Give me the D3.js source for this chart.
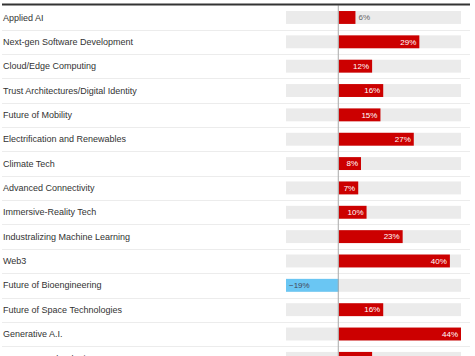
<!DOCTYPE html>
<html>
<head>
<meta charset="utf-8">
<script src="https://cdn.jsdelivr.net/npm/d3@7"></script>
<style>
  html, body { margin: 0; padding: 0; background: #fff; }
  svg { display: block; font-family: "Liberation Sans", Arial, sans-serif; }
</style>
</head>
<body>
<svg id="chart" width="475" height="356"></svg>
<script>
const categories = [
  "Applied AI",
  "Next-gen Software Development",
  "Cloud/Edge Computing",
  "Trust Architectures/Digital Identity",
  "Future of Mobility",
  "Electrification and Renewables",
  "Climate Tech",
  "Advanced Connectivity",
  "Immersive-Reality Tech",
  "Industralizing Machine Learning",
  "Web3",
  "Future of Bioengineering",
  "Future of Space Technologies",
  "Generative A.I.",
  "Quantum Technologies"
];
const values = [6, 29, 12, 16, 15, 27, 8, 7, 10, 23, 40, -19, 16, 44, 12];
const domainMin = -19;
const domainMax = 44;

const svg = d3.select("#chart");
const W = 475;
const step = 24.35;
const y0 = 5.3;

const x = d3.scaleLinear().domain([domainMin, domainMax]).range([286, 461]);
const y = d3.scaleBand()
  .domain(categories)
  .range([y0, y0 + step * categories.length])
  .paddingInner(0.47)
  .paddingOuter(0.235);

const rows = categories.map((c, i) => ({ cat: c, val: values[i] }));

// row separators
svg.append("g").selectAll("line")
  .data(categories.slice(1))
  .join("line")
  .attr("x1", 2).attr("x2", 470)
  .attr("y1", d => Math.round(y(d) - y.step() * 0.235) + 0.5)
  .attr("y2", d => Math.round(y(d) - y.step() * 0.235) + 0.5)
  .attr("stroke", "#ececec")
  .attr("stroke-width", 1);

// background bands
svg.append("g").selectAll("rect")
  .data(rows)
  .join("rect")
  .attr("x", x(domainMin))
  .attr("width", x(domainMax) - x(domainMin))
  .attr("y", d => y(d.cat))
  .attr("height", y.bandwidth())
  .attr("fill", "#ebebeb");

// bars
svg.append("g").selectAll("rect")
  .data(rows)
  .join("rect")
  .attr("x", d => x(Math.min(0, d.val)))
  .attr("width", d => Math.abs(x(d.val) - x(0)))
  .attr("y", d => y(d.cat))
  .attr("height", y.bandwidth())
  .attr("fill", d => d.val < 0 ? "#6ac6f3" : "#cc0000");

// zero line
svg.append("line")
  .attr("x1", x(0) - 0.5).attr("x2", x(0) - 0.5)
  .attr("y1", y0).attr("y2", 356)
  .attr("stroke", "#a8a8a8")
  .attr("stroke-width", 1);

// top rule
svg.append("line")
  .attr("x1", 2).attr("x2", 470)
  .attr("y1", 4.5).attr("y2", 4.5)
  .attr("stroke", "#333")
  .attr("stroke-width", 2);

// category labels
svg.append("g").selectAll("text")
  .data(rows)
  .join("text")
  .attr("x", 3)
  .attr("y", d => y(d.cat) + y.bandwidth() / 2)
  .attr("dy", "0.35em")
  .attr("font-size", 9)
  .attr("fill", "#333")
  .text(d => d.cat);

// value labels
const vl = svg.append("g").selectAll("text")
  .data(rows)
  .join("text")
  .attr("y", d => y(d.cat) + y.bandwidth() / 2)
  .attr("dy", "0.35em")
  .attr("font-size", 8)
  .text(d => (d.val < 0 ? "\u2212" : "") + Math.abs(d.val) + "%");

vl.each(function(d) {
  const t = d3.select(this);
  const tw = this.getComputedTextLength();
  const bw = Math.abs(x(d.val) - x(0));
  if (d.val < 0) {
    t.attr("x", x(d.val) + 3).attr("text-anchor", "start").attr("fill", "#445");
  } else if (bw < tw + 6) {
    t.attr("x", x(d.val) + 3).attr("text-anchor", "start").attr("fill", "#666");
  } else {
    t.attr("x", x(d.val) - 3).attr("text-anchor", "end").attr("fill", "#fff");
  }
});
</script>
</body>
</html>
